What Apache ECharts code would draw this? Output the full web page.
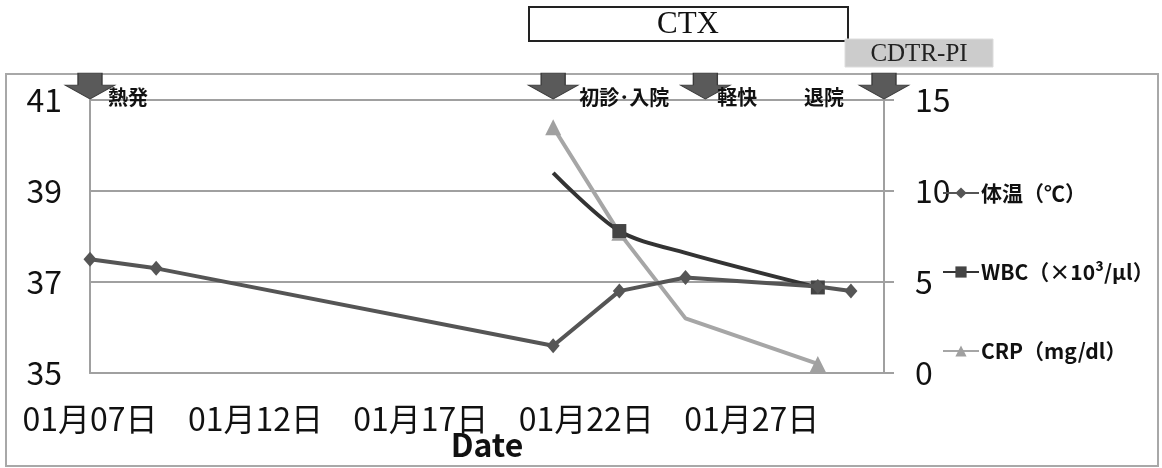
<!DOCTYPE html>
<html>
<head>
<meta charset="utf-8">
<script src="https://cdn.jsdelivr.net/npm/echarts@6.0.0/dist/echarts.min.js"></script>
<style>
  html, body { margin: 0; padding: 0; background: #fff; }
  #chart { width: 1162px; height: 468px; }
</style>
</head>
<body>
<div id="chart"></div>
<script>
// 1月の日付と測定値
const tempDays = [7, 9, 21, 23, 25, 29, 30]
const tempValues = [37.5, 37.3, 35.6, 36.8, 37.1, 36.9, 36.8]
const labDays = [21, 23, 25, 29]
const wbcValues = [11.0, 7.8, 6.6, 4.7]
const crpValues = [13.5, 7.7, 3.0, 0.5]
const seriesNames = ['体温（℃）', 'WBC（×10³/μl）', 'CRP（mg/dl）']
// 経過の矢印
const eventDays = [7, 21, 25.6, 31]
const eventNames = ['熱発', '初診･入院', '軽快', '退院']

const numFont = "'Liberation Sans Narrow', 'Noto Sans CJK JP', sans-serif"
const jpFont = "'Noto Sans CJK JP', sans-serif"
const serif = "'Liberation Serif', 'DejaVu Serif', serif"
const axisGray = '#a0a0a0'

const arrowPath = 'path://M13,0 L37,0 L37,12 L50,12 L25,26 L0,12 L13,12 Z'
// 矢印に対する文字の位置
const eventLabel = [
  { align: 'left', offset: [18, 11] },
  { align: 'left', offset: [26, 11] },
  { align: 'left', offset: [12, 11] },
  { align: 'right', offset: [-40, 11] }
]

const wbcMarked = [1, 3]
const crpMarked = [0, 1, 3]

const chart = echarts.init(document.getElementById('chart'))

chart.setOption({
  animation: false,
  backgroundColor: '#fff',
  textStyle: { fontFamily: numFont, color: '#111' },
  grid: { left: 90, right: 278, top: 100, bottom: 95, containLabel: false, outerBoundsMode: 'none' },
  graphic: [
    {
      type: 'rect', z: 0,
      shape: { x: 6, y: 74, width: 1152, height: 392 },
      style: { fill: 'none', stroke: '#a8a8a8', lineWidth: 2 }
    },
    {
      type: 'rect', z: 0,
      shape: { x: 529, y: 7, width: 319, height: 34 },
      style: { fill: '#fff', stroke: '#222', lineWidth: 2 }
    },
    {
      type: 'text', z: 1, x: 688, y: 25,
      style: { text: 'CTX', font: '31px ' + serif, fill: '#111', align: 'center', verticalAlign: 'middle' }
    },
    {
      type: 'rect', z: 0,
      shape: { x: 845, y: 39, width: 148, height: 28 },
      style: { fill: '#cccccc', stroke: '#dcdcdc', lineWidth: 1 }
    },
    {
      type: 'text', z: 1, x: 919, y: 54,
      style: { text: 'CDTR-PI', font: '25px ' + serif, fill: '#222', align: 'center', verticalAlign: 'middle' }
    }
  ],
  legend: {
    orient: 'vertical',
    left: 937,
    top: 176,
    itemGap: 55,
    itemWidth: 36,
    itemHeight: 14,
    data: seriesNames,
    textStyle: { fontFamily: jpFont, fontWeight: 'bold', fontSize: 21, lineHeight: 24, color: '#111', padding: [0, 0, 0, -3] }
  },
  xAxis: {
    type: 'value',
    min: 7,
    max: 31,
    interval: 5,
    name: 'Date',
    nameLocation: 'middle',
    nameGap: 56,
    nameMoveOverlap: false,
    nameTextStyle: { fontFamily: numFont, fontWeight: 'bold', fontSize: 32, color: '#111' },
    axisLine: { lineStyle: { color: axisGray, width: 2 } },
    axisTick: { show: false },
    splitLine: { show: false },
    axisLabel: {
      fontSize: 32,
      color: '#111',
      margin: 30,
      showMaxLabel: false,
      formatter: v => '01月' + String(v).padStart(2, '0') + '日'
    }
  },
  yAxis: [
    {
      type: 'value',
      min: 35,
      max: 41,
      interval: 2,
      axisLine: { show: true, lineStyle: { color: axisGray, width: 2 } },
      axisTick: { show: false },
      splitLine: { lineStyle: { color: axisGray, width: 2 } },
      axisLabel: { fontSize: 32, color: '#111', margin: 28 }
    },
    {
      type: 'value',
      min: 0,
      max: 15,
      interval: 5,
      position: 'right',
      axisLine: { show: true, lineStyle: { color: axisGray, width: 2 } },
      axisTick: { show: true, length: 10, lineStyle: { color: axisGray, width: 2 } },
      splitLine: { show: false },
      axisLabel: { fontSize: 32, color: '#111', margin: 31, align: 'left' }
    }
  ],
  series: [
    {
      name: seriesNames[0],
      type: 'line',
      yAxisIndex: 0,
      z: 4,
      clip: false,
      data: tempDays.map((d, i) => [d, tempValues[i]]),
      symbol: 'diamond',
      symbolSize: [13, 15],
      lineStyle: { color: '#555', width: 4 },
      itemStyle: { color: '#555' },
      markPoint: {
        symbol: arrowPath,
        symbolSize: [50, 26],
        symbolOffset: [0, -14],
        itemStyle: { color: '#5a5a5a', borderColor: '#3a3a3a', borderWidth: 1 },
        label: {
          show: true,
          position: 'inside',
          formatter: '{b}',
          fontFamily: jpFont,
          fontWeight: 'bold',
          fontSize: 20,
          color: '#111'
        },
        data: eventDays.map((d, i) => ({
          name: eventNames[i],
          coord: [d, 41],
          label: eventLabel[i]
        }))
      }
    },
    {
      name: seriesNames[1],
      type: 'line',
      yAxisIndex: 1,
      z: 3,
      smooth: 0.3,
      data: labDays.map((d, i) => ({
        value: [d, wbcValues[i]],
        symbol: wbcMarked.includes(i) ? 'rect' : 'none'
      })),
      symbol: 'rect',
      symbolSize: 14,
      lineStyle: { color: '#333', width: 4 },
      itemStyle: { color: '#444' }
    },
    {
      name: seriesNames[2],
      type: 'line',
      yAxisIndex: 1,
      z: 2,
      data: labDays.map((d, i) => ({
        value: [d, crpValues[i]],
        symbol: crpMarked.includes(i) ? 'triangle' : 'none'
      })),
      symbol: 'triangle',
      symbolSize: 16,
      lineStyle: { color: '#a6a6a6', width: 4 },
      itemStyle: { color: '#a0a0a0' }
    }
  ]
})
</script>
</body>
</html>
